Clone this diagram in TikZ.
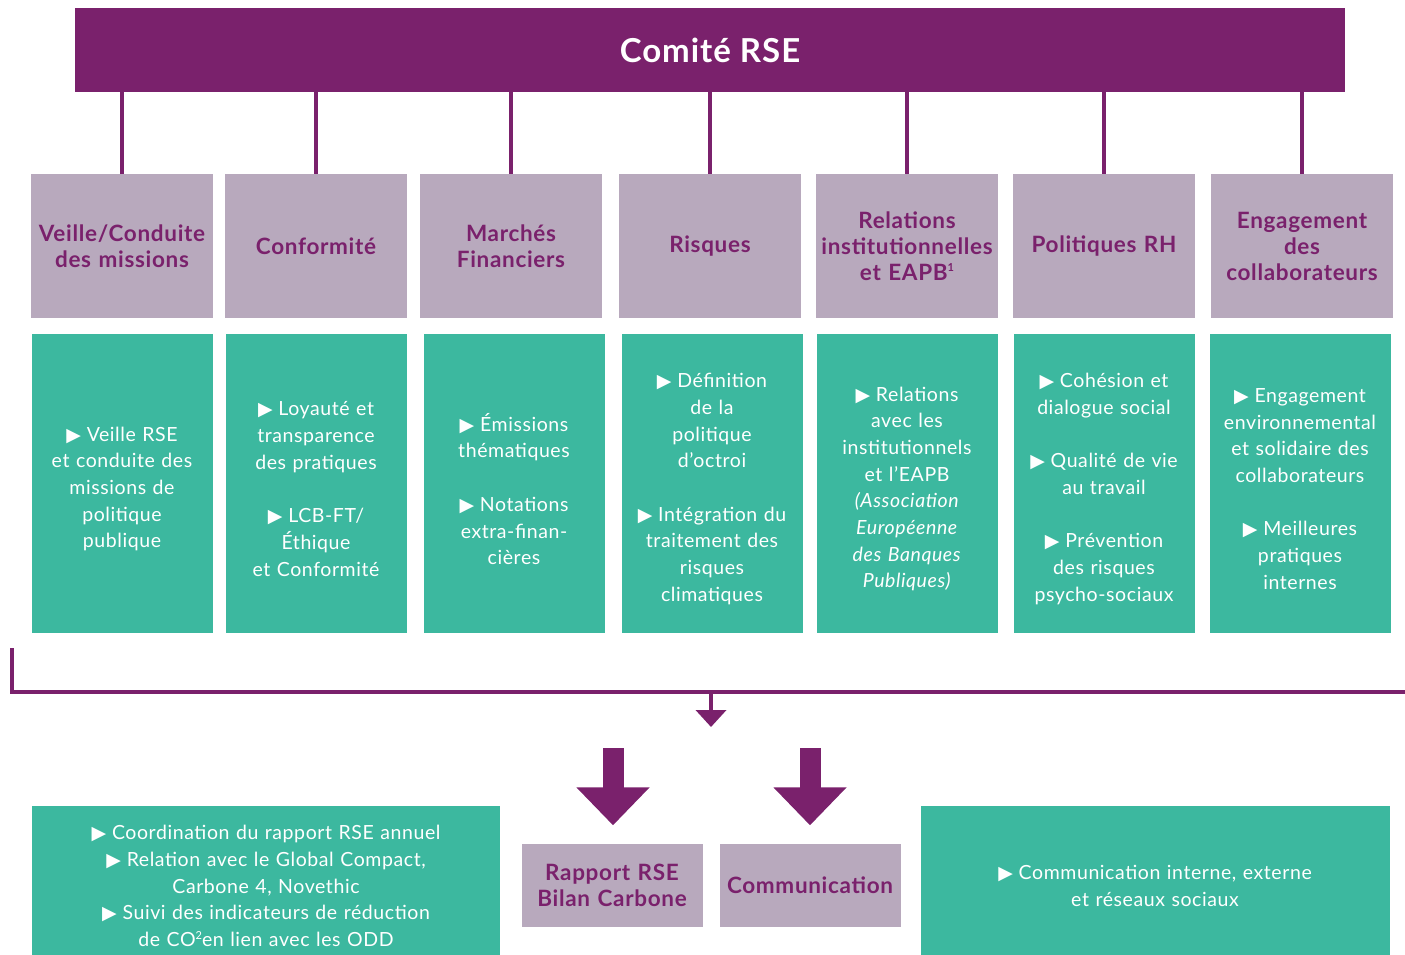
\documentclass[tikz,border=0pt]{standalone}
\usepackage{fontspec}
\setmainfont[LetterSpace=3]{Lato}
\newfontfamily\symfont{DejaVu Sans}
\usetikzlibrary{arrows.meta}
\definecolor{rsepurple}{RGB}{122,33,108}
\definecolor{rselilac}{RGB}{184,169,189}
\definecolor{rsegreen}{RGB}{60,184,159}
\newcommand{\pointe}{{\symfont\fontsize{19}{19}\selectfont ▶}\hspace{0.3em}}
\newcommand{\petitsup}[1]{\raisebox{0.75ex}{\fontsize{11}{11}\selectfont #1}}

\begin{document}
\begin{tikzpicture}[x=1pt, y=-1pt,
    head/.style={fill=rselilac, minimum width=182pt, minimum height=144pt, text width=180pt,
        inner sep=0pt, align=center, text=rsepurple, font=\fontsize{22.5}{26}\selectfont\bfseries},
    body/.style={fill=rsegreen, minimum width=181pt, minimum height=299pt, inner sep=0pt},
    bodytext/.style={text width=178pt, inner sep=0pt, align=center, text=white,
        font=\fontsize{19.5}{26.7}\selectfont},
    link/.style={draw=rsepurple, line width=4pt},
    bigarrow/.style={draw=rsepurple, line width=21pt, -{Triangle[length=38pt, width=71pt]}}]
    \useasboundingbox (0,0) rectangle (1405,954);

    \node[fill=rsepurple, minimum width=1270pt, minimum height=84pt, text=white,
        font=\fontsize{33}{36}\selectfont\bfseries] (top) at (710,50) {Comité RSE};

    \node[head] (h1) at (122,246) {Veille/Conduite\\des missions};
    \node[head] (h2) at (316,246) {Conformité};
    \node[head] (h3) at (511,246) {Marchés\\Financiers};
    \node[head] (h4) at (710,246) {Risques};
    \node[head] (h5) at (907,246) {Relations\\institutionnelles\\et EAPB\petitsup{1}};
    \node[head] (h6) at (1104,246) {Politiques RH};
    \node[head] (h7) at (1302,246) {Engagement\\des\\collaborateurs};

    \foreach \i in {1,...,7}
        \draw[link] (h\i.north) -- (h\i.north |- top.south);

    \foreach \i/\x in {1/122, 2/316, 3/514, 4/712, 5/907, 6/1104, 7/1300}
        \node[body] (b\i) at (\x,483) {};

    \node[bodytext] (t1) at ([yshift=-6pt]b1.center) {\pointe Veille RSE\\et conduite des\\missions de\\politique\\publique};
    \node[bodytext] (t2) at ([yshift=-6pt]b2.center) {\pointe Loyauté et\\transparence\\des pratiques\\[26.7pt]\pointe LCB-FT/\\Éthique\\et Conformité};
    \node[bodytext] (t3) at ([yshift=-6pt]b3.center) {\pointe Émissions\\thématiques\\[26.7pt]\pointe Notations\\extra-finan-\\cières};
    \node[bodytext] (t4) at ([yshift=-6pt]b4.center) {\pointe Définition\\de la\\politique\\d’octroi\\[26.7pt]\pointe Intégration du\\traitement des\\risques\\climatiques};
    \node[bodytext] (t5) at ([yshift=-6pt]b5.center) {\pointe Relations\\avec les\\institutionnels\\et l’EAPB\\\textit{(Association}\\\textit{Européenne}\\\textit{des Banques}\\\textit{Publiques)}};
    \node[bodytext] (t6) at ([yshift=-6pt]b6.center) {\pointe Cohésion et\\dialogue social\\[26.7pt]\pointe Qualité de vie\\au travail\\[26.7pt]\pointe Prévention\\des risques\\psycho-sociaux};
    \node[bodytext] (t7) at ([yshift=-6pt]b7.center) {\pointe Engagement\\environnemental\\et solidaire des\\collaborateurs\\[26.7pt]\pointe Meilleures\\pratiques\\internes};

    \coordinate (bracket) at (12,648);
    \coordinate (bend) at (1410,692);
    \coordinate (split) at (711,692);
    \coordinate (down) at (711,727);
    \draw[link] (bracket) |- (bend);
    \draw[link, -{Triangle[length=17pt, width=30pt]}] (split) -- (down);

    \node[body, minimum width=468pt, minimum height=161pt] (tasks) at (266,886) {};
    \node[bodytext, text width=460pt] (tasktext) at (tasks.center)
        {\pointe Coordination du rapport RSE annuel\\\pointe Relation avec le Global Compact,\\Carbone 4, Novethic\\\pointe Suivi des indicateurs de réduction\\de CO\petitsup{2}en lien avec les ODD};
    \node[head, minimum width=181pt, minimum height=83pt] (rapport) at (612,885) {Rapport RSE\\Bilan Carbone};
    \node[head, minimum width=181pt, minimum height=83pt] (comm) at (810,885) {Communication};
    \node[body, minimum width=469pt, minimum height=161pt] (media) at (1155,886) {};
    \node[bodytext, text width=460pt] (mediatext) at (media.center)
        {\pointe Communication interne, externe\\et réseaux sociaux};

    \coordinate (r0) at (613,748);
    \coordinate (c0) at (810,748);
    \draw[bigarrow, shorten >=18pt] (r0) -- (r0 |- rapport.north);
    \draw[bigarrow, shorten >=18pt] (c0) -- (c0 |- comm.north);
\end{tikzpicture}
\end{document}
